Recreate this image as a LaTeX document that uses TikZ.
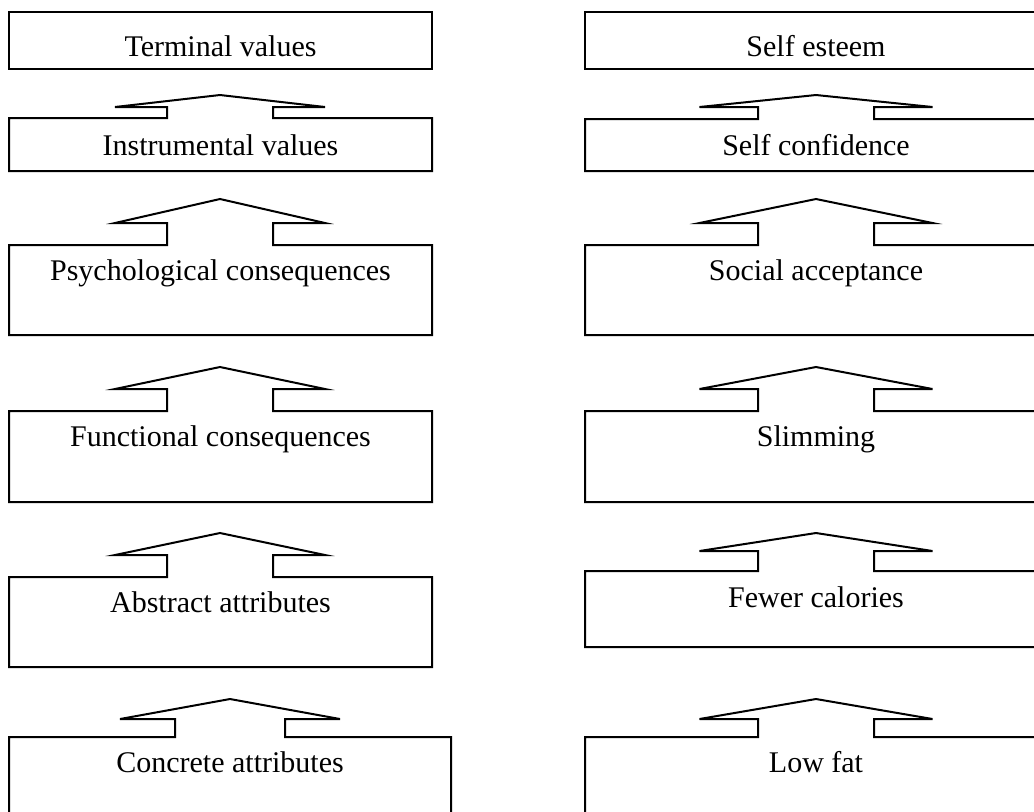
\documentclass[tikz,border=0pt]{standalone}
\usepackage{fontspec}
\setmainfont{Liberation Serif}

% Box whose top edge opens into an upward block arrow.
% #1 left, #2 right, #3 top, #4 bottom, #5 arrow centre x,
% #6 stem half width, #7 head half width, #8 head base y, #9 tip y
\newcommand{\notchbox}[9]{%
  \draw[outline] (#5-#6,#3) -- (#1,#3) -- (#1,#4) -- (#2,#4) -- (#2,#3)
    -- (#5+#6,#3) -- (#5+#6,#8) -- (#5+#7,#8) -- (#5,#9)
    -- (#5-#7,#8) -- (#5-#6,#8) -- cycle;}

\begin{document}
\begin{tikzpicture}[x=0.5pt,y=-0.5pt,
  outline/.style={draw=black,line width=1pt,line join=miter},
  lbl/.style={anchor=base,inner sep=0pt,font=\fontsize{15}{18}\selectfont}]
\useasboundingbox (0,0) rectangle (1034,811);
\fill[white] (0,0) rectangle (1034,811);
\clip (0,0) rectangle (1034,811);

% ---- means-end chain, generic levels ----
\draw[outline] (9,12) rectangle (432,69);
\notchbox{9}{432}{118}{171}{220}{53}{105}{107}{95}
\notchbox{9}{432}{245}{335}{220}{53}{105}{223}{199}
\notchbox{9}{432}{411}{502}{220}{53}{105}{389}{367}
\notchbox{9}{432}{577}{667}{220}{53}{105}{555}{533}
\notchbox{9}{451}{737}{840}{230}{55}{110}{719}{699}

\node[lbl] (term)  at (220.5,56)  {Terminal values};
\node[lbl] (instr) at (220.5,155) {Instrumental values};
\node[lbl] (psych) at (220.5,280) {Psychological consequences};
\node[lbl] (func)  at (220.5,446) {Functional consequences};
\node[lbl] (abst)  at (220.5,612) {Abstract attributes};
\node[lbl] (conc)  at (230,772)   {Concrete attributes};

% ---- example chain ----
\draw[outline] (585,12) rectangle (1047,69);
\notchbox{585}{1047}{119}{171}{816}{58}{116.5}{107}{95}
\notchbox{585}{1047}{245}{335}{816}{58}{116.5}{223}{199}
\notchbox{585}{1047}{411}{502}{816}{58}{116.5}{389}{367}
\notchbox{585}{1047}{571}{647}{816}{58}{116.5}{551}{533}
\notchbox{585}{1047}{737}{840}{816}{58}{116.5}{719}{699}

\node[lbl] (esteem) at (816,56)  {Self esteem};
\node[lbl] (conf)   at (816,155) {Self confidence};
\node[lbl] (social) at (816,280) {Social acceptance};
\node[lbl] (slim)   at (816,446) {Slimming};
\node[lbl] (fewer)  at (816,607) {Fewer calories};
\node[lbl] (lowfat) at (816,772) {Low fat};
\end{tikzpicture}
\end{document}
